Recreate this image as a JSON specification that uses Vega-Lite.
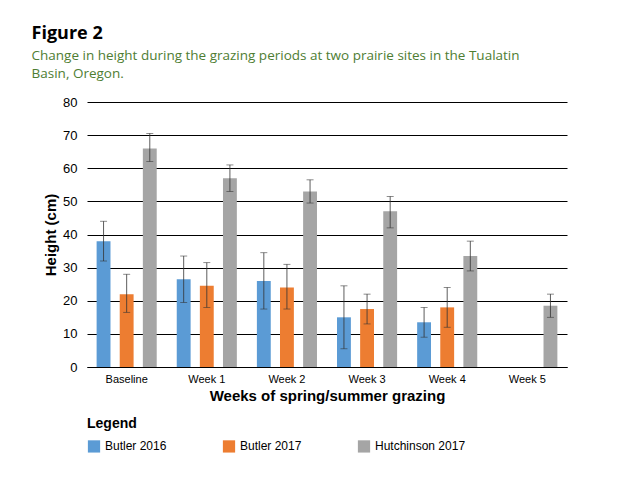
{
  "$schema": "https://vega.github.io/schema/vega-lite/v6.json",
  "width": 480,
  "height": 265,
  "padding": {"left": 31, "top": 24, "right": 30, "bottom": 10},
  "background": "white",
  "config": {
    "view": {"stroke": null},
    "font": "Liberation Sans"
  },
  "title": {
    "text": "Figure 2",
    "subtitle": ["Change in height during the grazing periods at two prairie sites in the Tualatin", "Basin, Oregon."],
    "anchor": "start",
    "frame": "bounds",
    "fontSize": 18,
    "fontWeight": "bold",
    "font": "Open Sans",
    "color": "#000000",
    "subtitleFont": "Open Sans",
    "subtitleFontSize": 13.5,
    "subtitleLineHeight": 18,
    "subtitleColor": "#4e7d32",
    "subtitlePadding": 6,
    "offset": 16,
    "dx": -12
  },
  "data": {
    "values": [
      {"week": "Baseline", "site": "Butler 2016", "height": 38, "lo": 32, "hi": 44},
      {"week": "Baseline", "site": "Butler 2017", "height": 22, "lo": 16.5, "hi": 28},
      {"week": "Baseline", "site": "Hutchinson 2017", "height": 66, "lo": 62, "hi": 70.5},
      {"week": "Week 1", "site": "Butler 2016", "height": 26.5, "lo": 19.5, "hi": 33.5},
      {"week": "Week 1", "site": "Butler 2017", "height": 24.5, "lo": 18, "hi": 31.5},
      {"week": "Week 1", "site": "Hutchinson 2017", "height": 57, "lo": 53, "hi": 61},
      {"week": "Week 2", "site": "Butler 2016", "height": 26, "lo": 17.5, "hi": 34.5},
      {"week": "Week 2", "site": "Butler 2017", "height": 24, "lo": 17.5, "hi": 31},
      {"week": "Week 2", "site": "Hutchinson 2017", "height": 53, "lo": 49.5, "hi": 56.5},
      {"week": "Week 3", "site": "Butler 2016", "height": 15, "lo": 5.5, "hi": 24.5},
      {"week": "Week 3", "site": "Butler 2017", "height": 17.5, "lo": 13, "hi": 22},
      {"week": "Week 3", "site": "Hutchinson 2017", "height": 47, "lo": 42, "hi": 51.5},
      {"week": "Week 4", "site": "Butler 2016", "height": 13.5, "lo": 9, "hi": 18},
      {"week": "Week 4", "site": "Butler 2017", "height": 18, "lo": 12, "hi": 24},
      {"week": "Week 4", "site": "Hutchinson 2017", "height": 33.5, "lo": 29, "hi": 38},
      {"week": "Week 5", "site": "Hutchinson 2017", "height": 18.5, "lo": 15, "hi": 22}
    ]
  },
  "encoding": {
    "x": {
      "field": "week", "type": "nominal", "sort": null,
      "scale": {"paddingInner": 0.25, "paddingOuter": 0.12},
      "axis": {
        "title": "Weeks of spring/summer grazing", "titleFontSize": 15, "titleFontWeight": "bold",
        "titleColor": "#000", "labelAngle": 0, "labelFontSize": 11, "labelColor": "#000",
        "ticks": false, "domainColor": "#000", "labelPadding": 6
      }
    },
    "xOffset": {"field": "site", "type": "nominal", "scale": {"domain": ["Butler 2016", "Butler 2017", "Hutchinson 2017"], "paddingInner": 0.4}}
  },
  "layer": [
    {
      "mark": {"type": "bar"},
      "encoding": {
        "y": {
          "field": "height", "type": "quantitative",
          "scale": {"domain": [0, 80]},
          "axis": {
            "title": "Height (cm)", "titleFontSize": 15, "titleFontWeight": "bold", "titleColor": "#000",
            "tickCount": 8, "labelFontSize": 13, "labelColor": "#000", "ticks": false, "domain": false,
            "gridColor": "#000", "gridOpacity": 1, "labelPadding": 10
          }
        },
        "color": {
          "field": "site", "type": "nominal",
          "scale": {"domain": ["Butler 2016", "Butler 2017", "Hutchinson 2017"], "range": ["#5b9bd5", "#ed7d31", "#a5a5a5"]},
          "legend": {
            "title": "Legend", "titleFontSize": 14, "titleFontWeight": "bold", "titleColor": "#000",
            "orient": "bottom", "direction": "horizontal", "symbolType": "square", "symbolSize": 150,
            "labelFontSize": 12, "labelColor": "#000", "columnPadding": 55, "titlePadding": 8, "offset": 14
          }
        }
      }
    },
    {
      "mark": {"type": "rule", "color": "#333", "strokeWidth": 0.8},
      "encoding": {"y": {"field": "lo", "type": "quantitative"}, "y2": {"field": "hi"}}
    },
    {
      "mark": {"type": "tick", "color": "#333", "thickness": 0.8, "size": 7},
      "encoding": {"y": {"field": "lo", "type": "quantitative"}}
    },
    {
      "mark": {"type": "tick", "color": "#333", "thickness": 0.8, "size": 7},
      "encoding": {"y": {"field": "hi", "type": "quantitative"}}
    }
  ]
}
